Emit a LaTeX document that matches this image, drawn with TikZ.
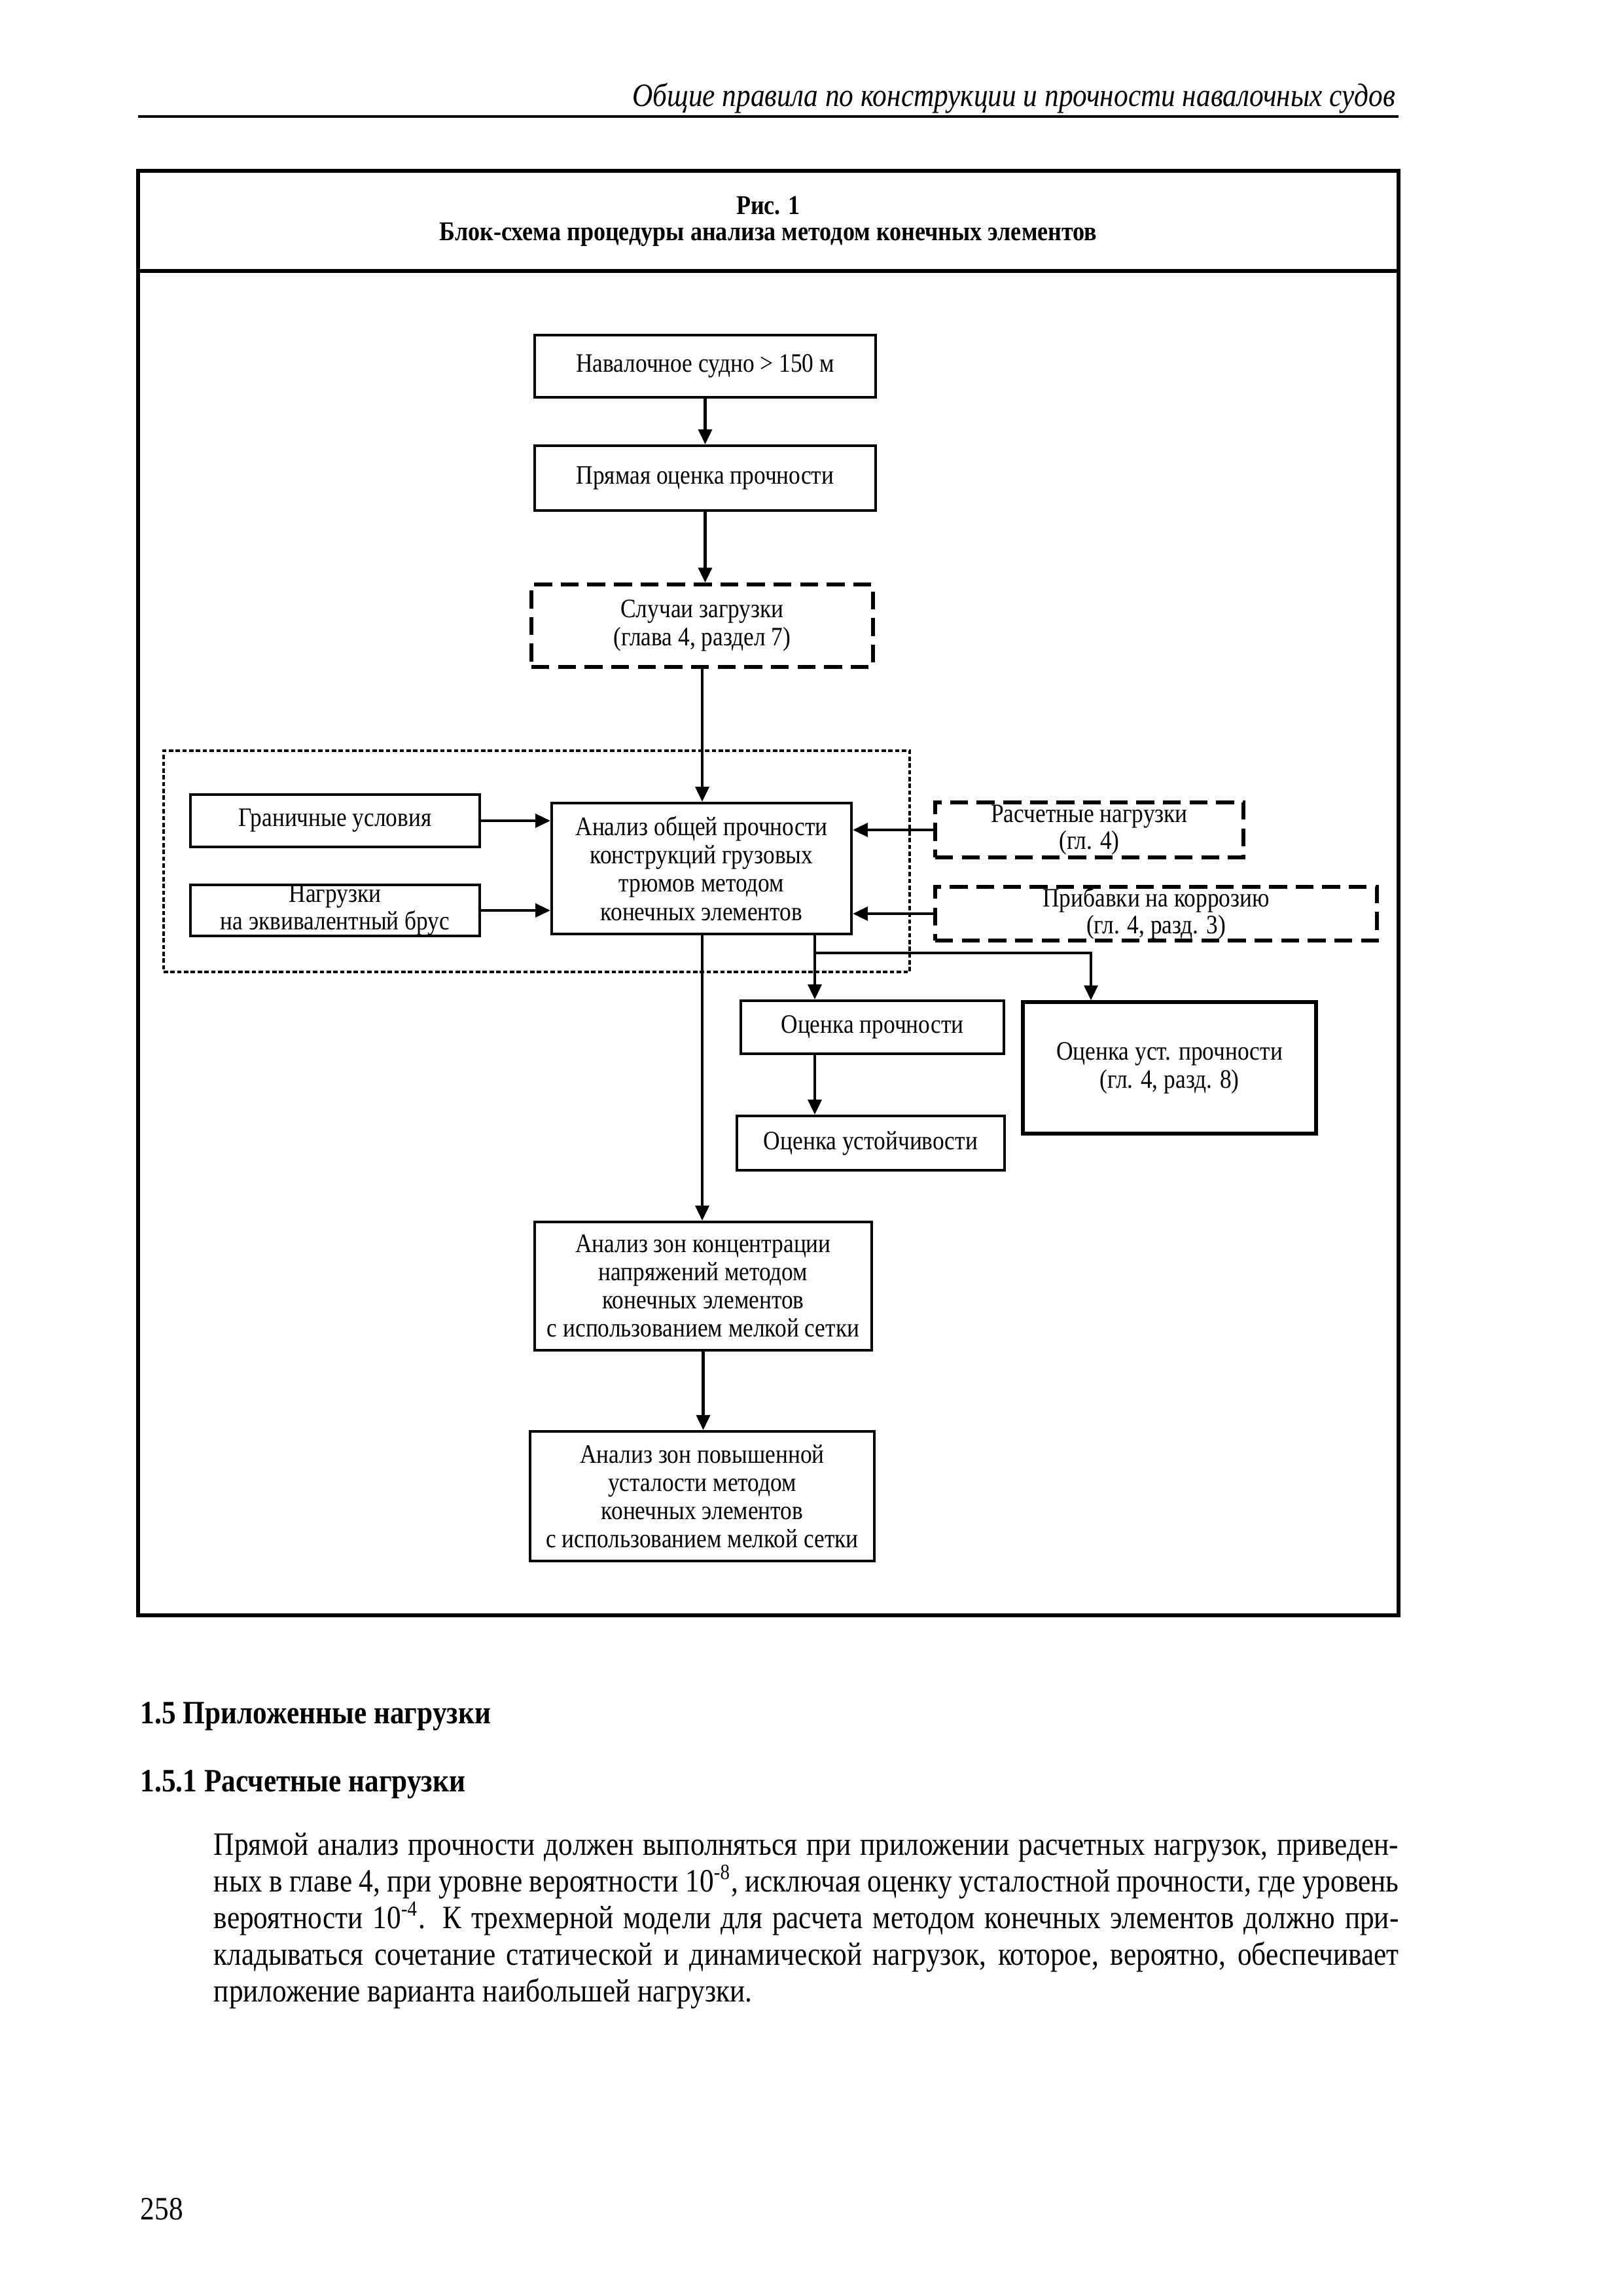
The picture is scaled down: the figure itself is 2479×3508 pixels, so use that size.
\documentclass[tikz,border=0pt]{standalone}
\usepackage{fontspec}
\setmainfont{Liberation Serif}[FakeStretch=0.87]
\usetikzlibrary{arrows.meta,fit,calc}
\begin{document}
\begin{tikzpicture}[x=0.08471mm,y=-0.08471mm,
  sz/.style 2 args={minimum width={#1*0.08471mm},minimum height={#2*0.08471mm}},
  box/.style={draw,line width=1pt,inner sep=0pt,align=center,font=\fontsize{9.8}{10.4}\selectfont},
  dbox/.style={box,dash pattern=on 6.6pt off 3.2pt,line width=1.4pt},
  grp/.style={draw,inner sep=0pt,line width=0.9pt,dash pattern=on 1.6pt off 0.9pt},
  arr/.style={line width=1pt,-{Triangle[length=5.5pt,width=5pt]}},
  frm/.style={line width=1.3pt},
  txt/.style={inner sep=0pt,font=\fontsize{12}{13.5}\selectfont},
  captxt/.style={inner sep=0pt,font=\fontsize{10}{12}\selectfont\bfseries},
]
\path[use as bounding box] (0,0) rectangle (2479,3508);

% page header
\node[txt,anchor=base east,font=\fontsize{12}{13.5}\selectfont\itshape] (hdr) at (2133,162) {Общие правила по конструкции и прочности навалочных судов};
\coordinate (hl) at (211,178);
\coordinate (hr) at (2137,178);
\draw[line width=1.1pt] (hl) -- (hr);

% figure frame
\node[draw,frm,inner sep=0pt,fit={(211,261) (2137,2468)}] (frame) {};
\coordinate (sl) at (211,414);
\coordinate (sr) at (2137,414);
\draw[frm] (sl) -- (sr);
\node[captxt,anchor=base] (c1) at (1174,327) {Рис. 1};
\node[captxt,anchor=base] (c2) at (1174,367) {Блок-схема процедуры анализа методом конечных элементов};

% group
\node[grp,fit={(250,1147) (1390,1485)}] (grp) {};

% boxes
\node[box,sz={521}{95}] (b1) at (1077.5,559.5) {Навалочное судно > 150 м};
\node[box,sz={521}{99}] (b2) at (1077.5,730.5) {Прямая оценка прочности};
\node[dbox,sz={522}{126}] (b3) at (1073,956) {Случаи загрузки\\(глава 4, раздел 7)};
\node[box,sz={442}{80}] (gr) at (512,1254) {Граничные условия};
\node[box,sz={442}{70},font=\fontsize{9.8}{6.8}\selectfont] (ng) at (512,1391) {Нагрузки\\на эквивалентный брус};
\node[box,sz={458}{200}] (an) at (1072,1327) {Анализ общей прочности\\конструкций грузовых\\трюмов методом\\конечных элементов};
\node[dbox,sz={471}{84},font=\fontsize{9.8}{7.6}\selectfont] (rn) at (1664.5,1268) {Расчетные нагрузки\\(гл. 4)};
\node[dbox,sz={675}{82},font=\fontsize{9.8}{7.6}\selectfont] (pr) at (1766.5,1396) {Прибавки на коррозию\\(гл. 4, разд. 3)};
\node[box,sz={402}{81}] (oc1) at (1333,1569.5) {Оценка прочности};
\node[box,sz={448}{201},line width=1.3pt] (ocu) at (1787,1631.5) {Оценка уст. прочности\\(гл. 4, разд. 8)};
\node[box,sz={409}{83}] (oc2) at (1330.5,1746.5) {Оценка устойчивости};
\node[box,sz={515}{196}] (conc) at (1074.5,1965) {Анализ зон концентрации\\напряжений методом\\конечных элементов\\с использованием мелкой сетки};
\node[box,sz={526}{198}] (fat) at (1073,2286) {Анализ зон повышенной\\усталости методом\\конечных элементов\\с использованием мелкой сетки};

% connectors
\draw[arr] (b1.south) -- (b1.south |- b2.north);
\draw[arr] (b2.south) -- (b2.south |- b3.north);
\draw[arr] (b3.south) -- (b3.south |- an.north);
\draw[arr] (gr.east) -- (gr.east -| an.west);
\draw[arr] (ng.east) -- (ng.east -| an.west);
\draw[arr] (rn.west) -- (rn.west -| an.east);
\draw[arr] (pr.west) -- (pr.west -| an.east);
\draw[arr] (b3.south |- an.south) -- (b3.south |- conc.north);
\draw[arr] (conc.south) -- (conc.south |- fat.north);
\coordinate (bx) at (1245,1456);
\coordinate (rx) at (1667,1456);
\draw[arr] (bx |- an.south) -- (bx |- oc1.north);
\draw[arr] (bx) -- (rx) -- (rx |- ocu.north);
\draw[arr] (bx |- oc1.south) -- (bx |- oc2.north);

% text below
\node[txt,anchor=base west,font=\fontsize{12}{13.5}\selectfont\bfseries] (h1) at (214,2633) {1.5 Приложенные нагрузки};
\node[txt,anchor=base west,font=\fontsize{12}{13.5}\selectfont\bfseries] (h2) at (214,2737) {1.5.1 Расчетные нагрузки};
\node[txt,anchor=base west] (p1) at (326,2834) {\makebox[436.4pt][s]{Прямой анализ прочности должен выполняться при приложении расчетных нагрузок, приведен-}};
\node[txt,anchor=base west] (p2) at (326,2890) {\makebox[436.4pt][s]{ных в главе 4, при уровне вероятности 10\textsuperscript{-8}, исключая оценку усталостной прочности, где уровень}};
\node[txt,anchor=base west] (p3) at (326,2946) {\makebox[436.4pt][s]{вероятности 10\textsuperscript{-4}. К трехмерной модели для расчета методом конечных элементов должно при-}};
\node[txt,anchor=base west] (p4) at (326,3002) {\makebox[436.4pt][s]{кладываться сочетание статической и динамической нагрузок, которое, вероятно, обеспечивает}};
\node[txt,anchor=base west] (p5) at (326,3058) {приложение варианта наибольшей нагрузки.};
\node[txt,anchor=base west] (pg) at (214,3391) {258};
\end{tikzpicture}
\end{document}
